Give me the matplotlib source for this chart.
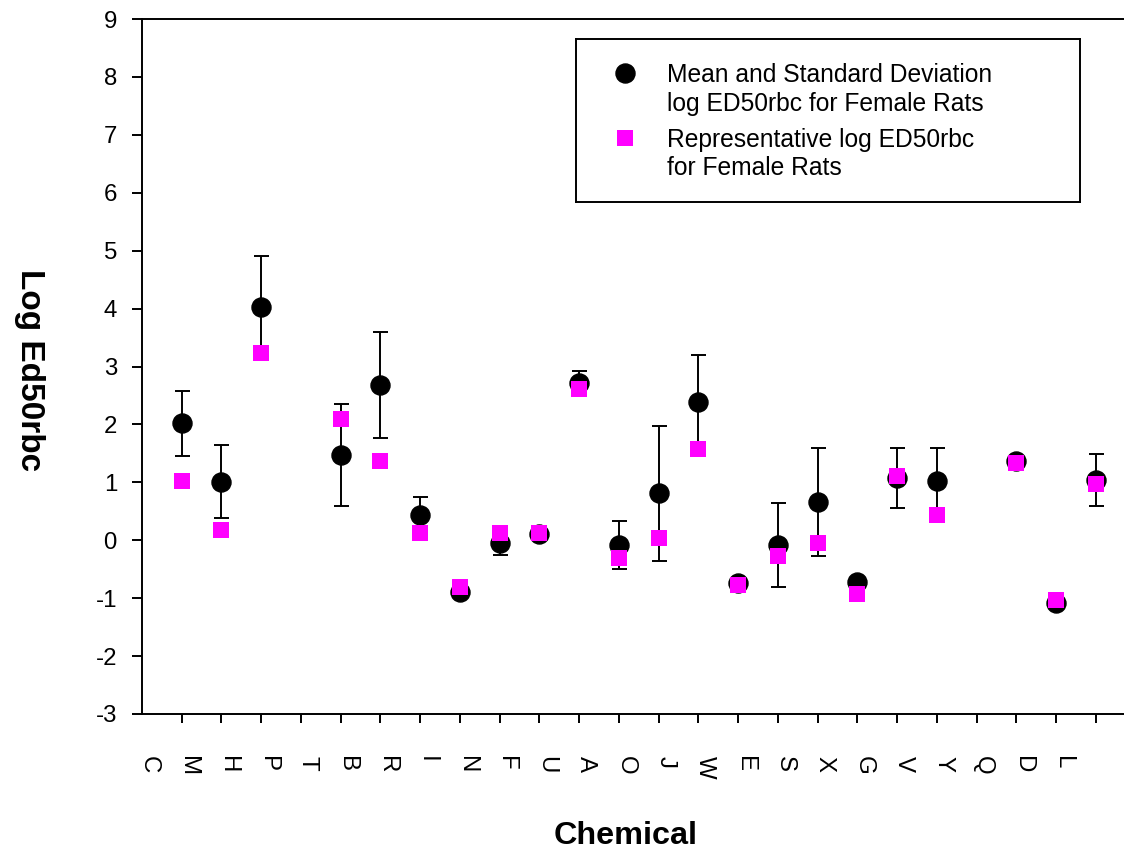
import numpy as np
import matplotlib
matplotlib.use('Agg')
import matplotlib.pyplot as plt

# ---- data ----
categories = ['C', 'M', 'H', 'P', 'T', 'B', 'R', 'I', 'N', 'F', 'U', 'A',
              'O', 'J', 'W', 'E', 'S', 'X', 'G', 'V', 'Y', 'Q', 'D', 'L']
mean_log = [2.02, 1.01, 4.02, np.nan, 1.47, 2.68, 0.43, -0.89, -0.05, 0.11, 2.71, -0.08,
            0.81, 2.39, -0.74, -0.08, 0.66, -0.72, 1.07, 1.03, np.nan, 1.36, -1.09, 1.04]
sd_log = [0.56, 0.63, 0.89, np.nan, 0.88, 0.92, 0.31, 0.0, 0.20, 0.0, 0.21, 0.42,
          1.16, 0.81, 0.0, 0.73, 0.93, 0.0, 0.52, 0.56, np.nan, 0.0, 0.0, 0.45]
rep_log = [1.02, 0.17, 3.24, np.nan, 2.10, 1.36, 0.12, -0.80, 0.12, 0.12, 2.62, -0.31,
           0.04, 1.58, -0.77, -0.27, -0.05, -0.92, 1.11, 0.44, np.nan, 1.33, -1.03, 0.97]
yticks = list(range(-3, 10))
legend_labels = [["Mean and Standard Deviation", "log ED50rbc for Female Rats"],
                 ["Representative log ED50rbc", "for Female Rats"]]

plt.rcParams['font.family'] = ['Liberation Sans', 'DejaVu Sans']
plt.rcParams['axes.unicode_minus'] = False

W, H = 1124, 852
fig = plt.figure(figsize=(W / 100, H / 100), dpi=100)
ax = fig.add_axes([142 / W, 138 / H, 982 / W, 695 / H])

x = np.arange(len(categories))
ax.errorbar(x, mean_log, yerr=sd_log, fmt='o', color='black', ms=13.7,
            capsize=5.4, elinewidth=1.4, capthick=1.4, zorder=2)
ax.plot(x, rep_log, 's', color='#FF00FF', ms=12, mew=0, zorder=3)

ax.set_xlim(-1.0, 23.71)
ax.set_ylim(-3, 9)
ax.set_yticks(yticks)
ax.set_yticklabels([str(v) for v in yticks], fontsize=17.3)

# major ticks at the categories (marks only); labels drawn via minor ticks,
# shifted left as in the original rendering
ax.set_xticks(x)
ax.set_xticklabels([])
label_shift = 0.83
ax.set_xticks(x - label_shift, minor=True)
ax.set_xticklabels(categories, minor=True, rotation=-90, ha='center', va='top',
                   fontsize=17.3)

ax.tick_params(axis='x', which='major', direction='out', length=6.5, width=1.4)
ax.tick_params(axis='x', which='minor', length=0, pad=30.5)
ax.tick_params(axis='y', direction='out', length=7, width=1.4, pad=11)
for s in ['left', 'bottom', 'top']:
    ax.spines[s].set_linewidth(1.4)
ax.spines['right'].set_visible(False)

ax.set_xlabel('Chemical', fontsize=23.3, fontweight='bold', va='center', ha='center')
ax.xaxis.set_label_coords((626 - 142) / 982, (714 - 836) / 695)
ax.set_ylabel('Log Ed50rbc', fontsize=24, fontweight='bold', rotation=-90,
              va='center', ha='center', rotation_mode='default')
ax.yaxis.set_label_coords((29 - 142) / 982, (714 - 370) / 695)

# ---- legend box ----
lax = fig.add_axes([576 / W, (H - 202) / H, 504 / W, 163 / H])
lax.set_xlim(576, 1080)
lax.set_ylim(202, 39)
lax.set_xticks([])
lax.set_yticks([])
for s in lax.spines.values():
    s.set_linewidth(1.4)
lax.plot([625], [73], 'o', color='black', ms=13.7)
lax.plot([625], [138], 's', color='#FF00FF', ms=12, mew=0)
baselines = [[81.5, 110.5], [146.5, 175.0]]
for lines, bls in zip(legend_labels, baselines):
    for t, b in zip(lines, bls):
        lax.text(667, b, t, fontsize=17.7, va='baseline', ha='left')

fig.savefig('out.png', dpi=100)
